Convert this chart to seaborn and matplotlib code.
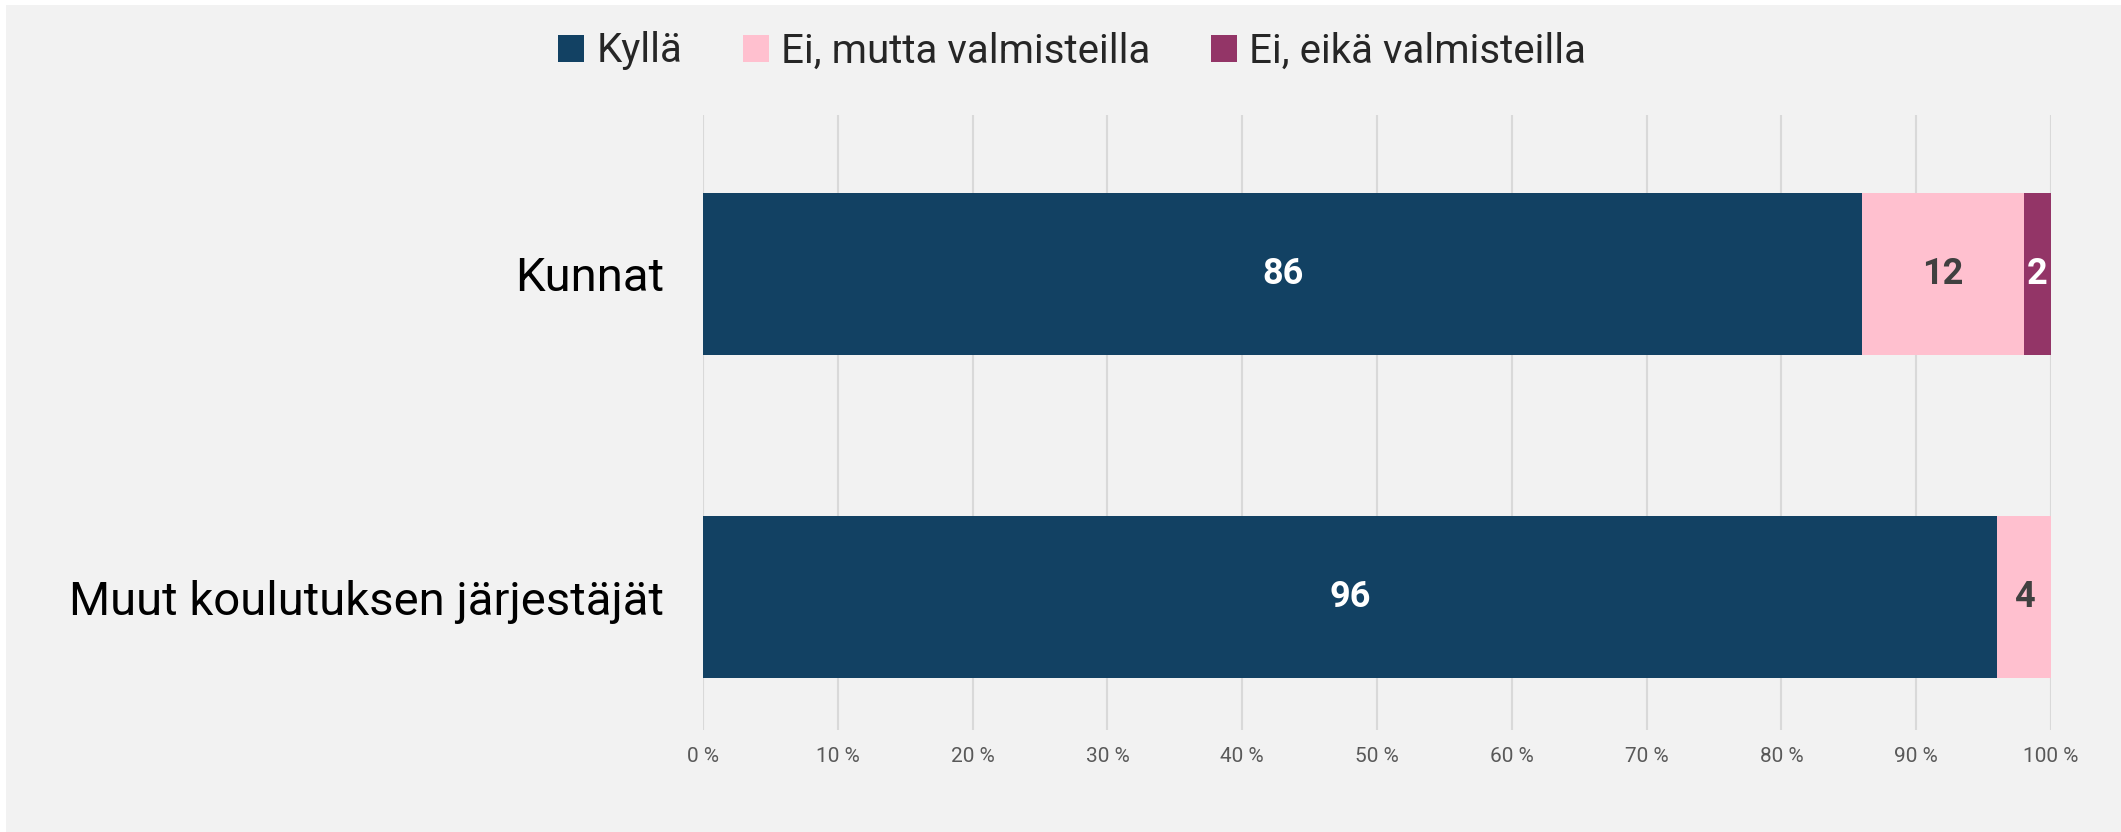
import matplotlib
matplotlib.use("Agg")
import matplotlib.pyplot as plt
import seaborn as sns
import pandas as pd
import numpy as np
from matplotlib.patches import Rectangle, Patch

categories = ["Kunnat", "Muut koulutuksen järjestäjät"]
series_names = ["Kyllä", "Ei, mutta valmisteilla", "Ei, eikä valmisteilla"]
kylla = [86, 96]
ei_mutta = [12, 4]
ei_eika = [2, 0]
xticks = [0, 10, 20, 30, 40, 50, 60, 70, 80, 90, 100]
xtick_labels = [f"{v} %" for v in xticks]

colors = ["#124163", "#FFC0CF", "#933567"]
label_colors = ["white", "#404040", "white"]

sns.set_theme(style="white")
plt.rcParams["font.family"] = ["Roboto", "DejaVu Sans"]

fig = plt.figure(figsize=(21.21, 8.32), dpi=100)
fig.patch.set_facecolor("white")
fig.patches.append(Rectangle((6 / 2121, 0), 1, 1 - 5 / 832, transform=fig.transFigure,
                             facecolor="#F2F2F2", edgecolor="none", zorder=-10))
ax = fig.add_axes([703 / 2121, 1 - 730 / 832, (2051 - 703) / 2121, (730 - 115) / 832])
ax.set_facecolor("#F2F2F2")
ax.patch.set_alpha(0)

series = [kylla, ei_mutta, ei_eika]
cum = np.cumsum(np.array(series), axis=0)
# draw cumulative totals from largest to smallest so each segment shows
for i in range(len(series) - 1, -1, -1):
    df = pd.DataFrame({"cat": categories, "val": cum[i]})
    sns.barplot(data=df, y="cat", x="val", orient="h", color=colors[i],
                saturation=1, width=0.5, ax=ax, zorder=3, linewidth=0, edgecolor="none")

# labels
for i, s in enumerate(series):
    starts = cum[i] - np.array(s)
    for j, v in enumerate(s):
        if v > 0:
            ax.text(starts[j] + v / 2, j, f"{v}", ha="center", va="center",
                    fontsize=26, fontweight="bold", color=label_colors[i], zorder=5)

ax.set_xlim(0, 100)
ax.set_ylim(1.41, -0.49)
ax.set_xticks(xticks)
ax.set_xticklabels(xtick_labels, fontsize=15, color="#595959")
ax.tick_params(axis="x", length=0, pad=12)
ax.tick_params(axis="y", length=0, pad=28, labelsize=34, labelcolor="black")
ax.set_xlabel("")
ax.set_ylabel("")
ax.grid(axis="x", color="#D9D9D9", linewidth=1.5, zorder=0)
ax.set_axisbelow(True)
for sp in ax.spines.values():
    sp.set_visible(False)

handles = [Patch(facecolor=c, edgecolor="none") for c in colors]
fig.legend(handles, series_names, loc="center", bbox_to_anchor=(1072 / 2121, 1 - 51 / 832),
           ncol=3, frameon=False, fontsize=29, handlelength=0.65, handleheight=0.65,
           handletextpad=0.3, columnspacing=1.5)

fig.savefig("out.png", dpi=100, facecolor=fig.get_facecolor())
